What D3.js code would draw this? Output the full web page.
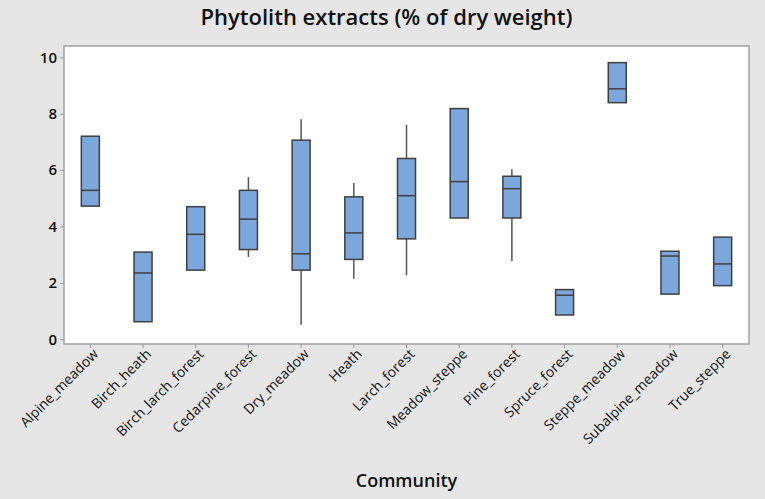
<!DOCTYPE html>
<html>
<head>
<meta charset="utf-8">
<script src="https://cdn.jsdelivr.net/npm/d3@7"></script>
<style>
  body { margin: 0; background: #e6e6e6; }
  svg { display: block; font-family: "Open Sans", "Noto Sans", sans-serif; }
  .axis text { fill: #111; font-family: "Open Sans", "Noto Sans", sans-serif; }
  .x-axis text { font-size: 14px; }
  .y-axis text { font-size: 15px; font-weight: 600; }
  .axis path, .axis line { stroke: #9a9a9a; }
</style>
</head>
<body>
<div id="chart"></div>
<script>
// box summaries (whisker low, q1, median, q3, whisker high)
const communities = ["Alpine_meadow", "Birch_heath", "Birch_larch_forest", "Cedarpine_forest",
    "Dry_meadow", "Heath", "Larch_forest", "Meadow_steppe", "Pine_forest", "Spruce_forest",
    "Steppe_meadow", "Subalpine_meadow", "True_steppe"]
const lowWhisker = [4.72, 0.62, 2.45, 2.92, 0.51, 2.14, 2.27, 4.30, 2.77, 0.86, 8.39, 1.60, 1.90]
const q1 = [4.72, 0.62, 2.45, 3.18, 2.45, 2.83, 3.56, 4.30, 4.30, 0.86, 8.39, 1.60, 1.90]
const medians = [5.28, 2.35, 3.72, 4.26, 3.03, 3.77, 5.09, 5.59, 5.34, 1.56, 8.88, 2.95, 2.67]
const q3 = [7.20, 3.09, 4.70, 5.28, 7.06, 5.05, 6.41, 8.18, 5.78, 1.76, 9.81, 3.12, 3.62]
const highWhisker = [7.20, 3.09, 4.70, 5.75, 7.80, 5.54, 7.60, 8.18, 6.03, 1.76, 9.81, 3.12, 3.62]
const yTicks = [0, 2, 4, 6, 8, 10]

const totalWidth = 765, totalHeight = 499
const margin = { top: 46, right: 16, bottom: 155, left: 64 }
const width = totalWidth - margin.left - margin.right,
    height = totalHeight - margin.top - margin.bottom;

const data = communities.map((c, i) => ({
    name: c, lo: lowWhisker[i], q1: q1[i], med: medians[i], q3: q3[i], hi: highWhisker[i]
}))

const svg = d3.select("#chart")
    .append("svg")
    .attr("width", totalWidth)
    .attr("height", totalHeight)

svg.append("text")
    .attr("x", totalWidth / 2 + 4)
    .attr("y", 25)
    .attr("text-anchor", "middle")
    .style("font-size", "22px")
    .style("font-weight", 600)
    .style("fill", "#111")
    .text("Phytolith extracts (% of dry weight)")

const g = svg.append("g")
    .attr("transform", "translate(" + margin.left + "," + margin.top + ")")

g.append("rect")
    .attr("width", width)
    .attr("height", height)
    .attr("fill", "#fff")
    .attr("stroke", "#a0a0a0")
    .attr("stroke-width", 1.5)

const xScale = d3.scaleBand().domain(communities).range([0, width])
const yScale = d3.scaleLinear().domain([-0.17, 10.4]).range([height, 0])

const yAxis = d3.axisLeft(yScale).tickValues(yTicks).tickSize(4).tickPadding(3)
g.append("g").attr("class", "axis y-axis").call(yAxis)
    .call(a => a.select(".domain").remove())

const xAxis = d3.axisBottom(xScale).tickSize(4).tickPadding(3)
g.append("g")
    .attr("class", "axis x-axis")
    .attr("transform", "translate(0," + height + ")")
    .call(xAxis)
    .call(a => a.select(".domain").remove())
    .selectAll("text")
    .attr("text-anchor", "end")
    .attr("dx", "-0.1em")
    .attr("dy", "0.5em")
    .attr("transform", "rotate(-45)")

const boxW = 18
const cx = d => xScale(d.name) + xScale.bandwidth() / 2

const boxes = g.selectAll(".box")
    .data(data)
    .enter()
    .append("g")
    .attr("class", "box")

// whiskers
boxes.append("line")
    .attr("x1", cx).attr("x2", cx)
    .attr("y1", d => yScale(d.hi)).attr("y2", d => yScale(d.q3))
    .attr("stroke", "#555").attr("stroke-width", 1.5)
boxes.append("line")
    .attr("x1", cx).attr("x2", cx)
    .attr("y1", d => yScale(d.q1)).attr("y2", d => yScale(d.lo))
    .attr("stroke", "#555").attr("stroke-width", 1.5)

boxes.append("rect")
    .attr("x", d => cx(d) - boxW / 2)
    .attr("width", boxW)
    .attr("y", d => yScale(d.q3))
    .attr("height", d => yScale(d.q1) - yScale(d.q3))
    .attr("fill", "#7ba7dd")
    .attr("stroke", "#3f3f3f")
    .attr("stroke-width", 1.5)

boxes.append("line")
    .attr("x1", d => cx(d) - boxW / 2).attr("x2", d => cx(d) + boxW / 2)
    .attr("y1", d => yScale(d.med)).attr("y2", d => yScale(d.med))
    .attr("stroke", "#3f3f3f").attr("stroke-width", 1.5)

svg.append("text")
    .attr("x", margin.left + width / 2)
    .attr("y", 487)
    .attr("text-anchor", "middle")
    .style("font-size", "18px")
    .style("font-weight", 600)
    .style("fill", "#111")
    .text("Community")
</script>
</body>
</html>
